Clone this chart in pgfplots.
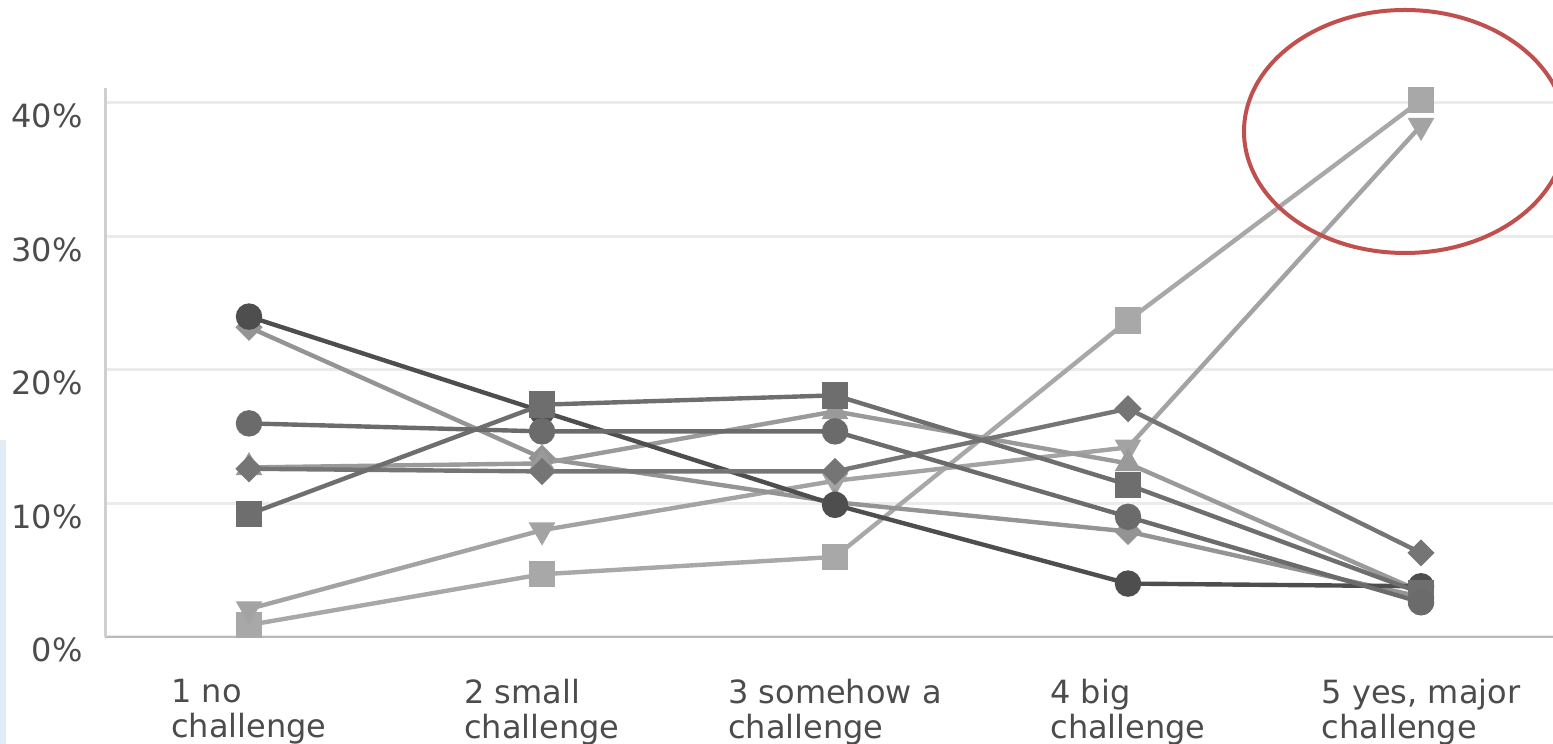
\documentclass[border=0pt]{standalone}
\usepackage{pgfplots}
\pgfplotsset{compat=1.18}
\usepackage{fontspec}
\setmainfont{DejaVu Sans}

\definecolor{sA}{HTML}{4E4E4E}
\definecolor{sB}{HTML}{6B6B6B}
\definecolor{sC}{HTML}{6E6E6E}
\definecolor{sD}{HTML}{757575}
\definecolor{sE}{HTML}{9A9A9A}
\definecolor{sF}{HTML}{949494}
\definecolor{sG}{HTML}{A3A3A3}
\definecolor{sH}{HTML}{A8A8A8}
\definecolor{txt}{HTML}{4C4C4C}
\definecolor{gridc}{HTML}{EBEBEB}
\definecolor{axc}{HTML}{CFCFCF}
\definecolor{ring}{HTML}{C0504D}
\definecolor{edge}{HTML}{E2ECF5}

\begin{document}
\begin{tikzpicture}
\useasboundingbox (0,0) rectangle (776.5pt,372pt);
\fill[edge] (0,0) rectangle (3pt,152pt);
\begin{axis}[
  at={(52.5pt,53.5pt)}, anchor=south west,
  scale only axis, width=724pt, height=274.5pt,
  xmin=0.5085, xmax=5.4505, ymin=0, ymax=41.12,
  clip=false,
  axis x line*=bottom, axis y line*=left,
  axis line style={draw=axc, line width=1.5pt},
  x axis line style={draw=axc!90!black, line width=1pt},
  ymajorgrids, grid style={draw=gridc, line width=1.5pt},
  major tick length=0pt,
  xtick={1,2,3,4,5},
  xticklabels={{1 no\\challenge},{2 small\\challenge},{3 somehow a\\challenge},{4 big\\challenge},{5 yes, major\\challenge}},
  ytick={0,10,20,30,40},
  yticklabels={0\%,10\%,20\%,30\%,40\%},
  tick label style={font=\fontsize{16}{17.5}\selectfont, text=txt},
  xticklabel style={align=left, anchor=north, inner sep=0pt, yshift=-21pt},
  yticklabel style={anchor=east, inner sep=0pt, xshift=-11pt, yshift=-6.5pt},
  every axis plot/.append style={line width=2.2pt},
]
% lighter series first
\addplot[sH, mark=square*, mark size=5.5pt, mark options={fill=sH}]
  coordinates {(1,0.9) (2,4.7) (3,6.0) (4,23.7) (5,40.2)};
\addplot[sG, mark=triangle*, mark size=5.5pt, mark options={fill=sG, rotate=180}]
  coordinates {(1,2.1) (2,8.0) (3,11.7) (4,14.2) (5,38.3)};
\addplot[sF, mark=square*, mark size=3.7pt, mark options={fill=sF, rotate=45}]
  coordinates {(1,23.2) (2,13.4) (3,10.1) (4,7.9) (5,3.0)};
\addplot[sE, mark=triangle*, mark size=5.5pt, mark options={fill=sE}]
  coordinates {(1,12.7) (2,13.0) (3,16.9) (4,13.0) (5,3.4)};
\addplot[sA, mark=*, mark size=5.5pt, mark options={fill=sA}]
  coordinates {(1,24.0) (2,16.9) (3,9.9) (4,4.0) (5,3.8)};
\addplot[sD, mark=square*, mark size=3.7pt, mark options={fill=sD, rotate=45}]
  coordinates {(1,12.6) (2,12.4) (3,12.4) (4,17.1) (5,6.3)};
\addplot[sC, mark=square*, mark size=5.5pt, mark options={fill=sC}]
  coordinates {(1,9.2) (2,17.4) (3,18.1) (4,11.4) (5,3.3)};
\addplot[sB, mark=*, mark size=5.5pt, mark options={fill=sB}]
  coordinates {(1,16.0) (2,15.4) (3,15.4) (4,9.0) (5,2.6)};
\end{axis}
% highlight ring around the top-right values
\draw[ring, line width=2pt] (702.5pt,306.25pt) ellipse [x radius=80.5pt, y radius=60.75pt];
\end{tikzpicture}
\end{document}
